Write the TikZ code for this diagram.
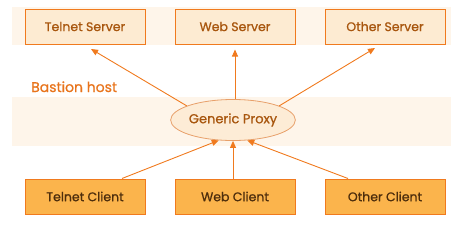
\documentclass[tikz,border=0pt]{standalone}
\usepackage{fontspec}
\setmainfont{Poppins}[FakeBold=0.8]
\usetikzlibrary{arrows.meta,shapes.geometric}
\definecolor{bandc}{HTML}{FEF5EA}
\definecolor{edgec}{HTML}{F07A1E}
\definecolor{srvfill}{HTML}{FDEBD2}
\definecolor{srvtext}{HTML}{A8560E}
\definecolor{clifill}{HTML}{FBB44C}
\definecolor{clitext}{HTML}{4E2E0C}
\definecolor{ellfill}{HTML}{FDECD6}
\definecolor{elledge}{HTML}{E8A06A}
\definecolor{bastc}{HTML}{E8741C}
\tikzset{
  txt/.style={font=\fontsize{12.5}{14}\selectfont},
  server/.style={txt, draw=edgec, fill=srvfill, text=srvtext, line width=1pt, minimum width=120pt, minimum height=35pt, inner sep=0pt},
  client/.style={txt, draw=edgec, fill=clifill, text=clitext, line width=1pt, minimum width=120pt, minimum height=35pt, inner sep=0pt},
  proxy/.style={ellipse, draw=elledge, fill=ellfill, text=srvtext, line width=0.8pt, minimum width=118pt, minimum height=41pt, inner sep=0pt, font=\fontsize{13}{15}\selectfont},
  link/.style={draw=edgec, line width=0.9pt, -{Triangle[length=7pt,width=6pt]}},
}
\begin{document}
\begin{tikzpicture}[x=1pt,y=-1pt]
\useasboundingbox (0,0) rectangle (457,225);
\fill[bandc] (12,7) rectangle (451,45);
\fill[bandc] (12,97) rectangle (451,146);
\node[server] (ts) at (85,26.5) {Telnet Server};
\node[server] (ws) at (235,26.5) {Web Server};
\node[server] (os) at (385,26.5) {Other Server};
\node[client] (tc) at (85,196.5) {Telnet Client};
\node[client] (wc) at (235,196.5) {Web Client};
\node[client] (oc) at (385,196.5) {Other Client};
\node[proxy] (gp) at (233,120) {Generic Proxy};
\node[text=bastc, anchor=base west, inner sep=0pt, font=\fontsize{14}{16}\selectfont] (bh) at (31,92) {Bastion host};
\coordinate (tsin) at (91,49);
\coordinate (osin) at (375,48);
\draw[link] (gp.163) -- (tsin);
\draw[link] (gp.north -| ws) -- ([yshift=-5pt]ws.south);
\draw[link] (gp.17) -- (osin);
\draw[link] (tc.north -| 122,0) -- (gp.-125);
\draw[link] (wc.north -| gp) -- (gp.south);
\draw[link] (oc.north -| 348,0) -- (gp.-55);
\end{tikzpicture}
\end{document}
